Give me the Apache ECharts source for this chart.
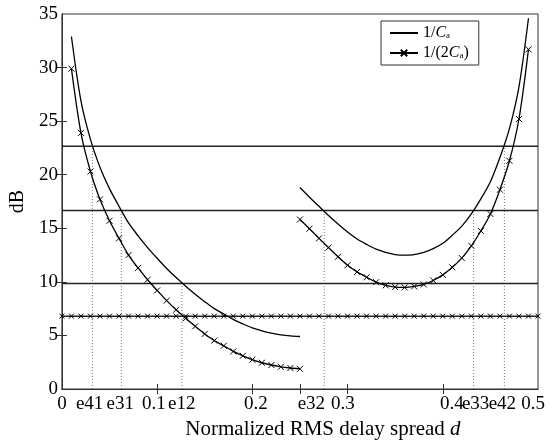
<!DOCTYPE html>
<html>
<head>
<meta charset="utf-8">
<script src="https://cdn.jsdelivr.net/npm/echarts@6/dist/echarts.min.js"></script>
<style>html,body{margin:0;padding:0;background:#fff}#c{width:557px;height:445px}</style>
</head>
<body>
<div id="c"></div>
<script>
// ---- data ----
const xLeft = [0.01,0.02,0.03,0.04,0.05,0.06,0.07,0.08,0.09,0.10,0.11,0.12,0.13,0.14,0.15,0.16,0.17,0.18,0.19,0.20,0.21,0.22,0.23,0.24,0.25];
const invCaLeft = [32.9,26.9,23.3,20.7,18.7,17.05,15.5,14.3,13.2,12.2,11.25,10.4,9.6,8.85,8.15,7.5,7.0,6.5,6.08,5.7,5.43,5.22,5.06,4.96,4.9];
const inv2CaLeft = [29.9,23.9,20.3,17.7,15.7,14.06,12.5,11.3,10.2,9.2,8.25,7.4,6.6,5.85,5.14,4.52,4.03,3.51,3.1,2.74,2.45,2.24,2.07,1.96,1.88];
const xRight = [0.25,0.26,0.27,0.28,0.29,0.30,0.31,0.32,0.33,0.34,0.35,0.36,0.37,0.38,0.39,0.40,0.41,0.42,0.43,0.44,0.45,0.46,0.47,0.48,0.49];
const invCaRight = [18.8,17.9,17.05,16.2,15.4,14.65,14.0,13.5,13.05,12.75,12.55,12.5,12.55,12.75,13.1,13.6,14.35,15.2,16.35,17.75,19.35,21.6,24.3,28.2,34.6];
const inv2CaRight = [15.82,14.96,14.06,13.2,12.34,11.55,10.93,10.43,9.97,9.67,9.51,9.48,9.58,9.76,10.13,10.65,11.36,12.22,13.36,14.75,16.34,18.6,21.3,25.2,31.7];
const thresholdX = [0,0.01,0.02,0.03,0.04,0.05,0.06,0.07,0.08,0.09,0.10,0.11,0.12,0.13,0.14,0.15,0.16,0.17,0.18,0.19,0.20,0.21,0.22,0.23,0.24,0.25,0.26,0.27,0.28,0.29,0.30,0.31,0.32,0.33,0.34,0.35,0.36,0.37,0.38,0.39,0.40,0.41,0.42,0.43,0.44,0.45,0.46,0.47,0.48,0.49,0.50];
const thresholdLevel = 6.8;
const levels = [22.65,16.65,9.85];
const dropX = [0.032,0.0624,0.126,0.2755,0.4324,0.4647];
const dropTop = [22.65,16.65,9.85,16.65,16.65,22.65];
const xTickLabels = ['0','e41','e31','0.1','e12','0.2','e32','0.3','0.4','e33','e42','0.5'];
const xTickLabelPos = [0,0.0291,0.0613,0.0967,0.1258,0.2037,0.262,0.2952,0.4096,0.4345,0.4626,0.4948];
const xTickMarks = [0.1,0.2,0.25,0.3,0.4];
const yTicks = [5,10,15,20,25,30];
const legendNames = ['1/Ca','1/(2Ca)'];

// ---- chart ----
const FONT = 'Liberation Serif';
const xMark = 'path://M0,0L10,10M10,0L0,10';
const zip = (xs, ys) => xs.map((x, i) => [x, ys[i]]);
const series = [];
levels.forEach(v => series.push({
  type:'line', data:[[0,v],[0.5,v]], symbol:'none', silent:true,
  lineStyle:{color:'#222', width:1.5}, z:2
}));
dropX.forEach((x, i) => series.push({
  type:'line', data:[[x,0],[x,dropTop[i]]], symbol:'none', silent:true,
  lineStyle:{color:'#777', width:1, type:[1,2]}, z:1
}));
series.push({
  type:'line', data: thresholdX.map(x => [x, thresholdLevel]),
  symbol:xMark, symbolSize:5, showAllSymbol:true,
  lineStyle:{color:'#222', width:1.5}, itemStyle:{color:'#000', borderColor:'#000', borderWidth:1}, z:3
});
const curveStyle = {color:'#000', width:1.3};
series.push({name:legendNames[0], type:'line', data:zip(xLeft, invCaLeft), symbol:'none', smooth:0.3, lineStyle:curveStyle, itemStyle:{color:'#000'}, z:4});
series.push({name:legendNames[0], type:'line', data:zip(xRight, invCaRight), symbol:'none', smooth:0.3, lineStyle:curveStyle, itemStyle:{color:'#000'}, z:4});
series.push({name:legendNames[1], type:'line', data:zip(xLeft, inv2CaLeft), symbol:xMark, symbolSize:6, showAllSymbol:true, smooth:0.3, lineStyle:curveStyle, itemStyle:{color:'#000', borderColor:'#000', borderWidth:1}, z:4});
series.push({name:legendNames[1], type:'line', data:zip(xRight, inv2CaRight), symbol:xMark, symbolSize:6, showAllSymbol:true, smooth:0.3, lineStyle:curveStyle, itemStyle:{color:'#000', borderColor:'#000', borderWidth:1}, z:4});

const chart = echarts.init(document.getElementById('c'), null, {renderer:'canvas'});
chart.setOption({
  animation:false,
  backgroundColor:'#fff',
  grid:{left:57, right:19, top:14, bottom:52, show:true, borderColor:'#333', borderWidth:1, backgroundColor:'transparent'},
  legend:{
    data:[{name:legendNames[0], itemStyle:{opacity:0}}, {name:legendNames[1]}],
    orient:'vertical', left:381, top:21,
    backgroundColor:'#fff', borderColor:'#333', borderWidth:1, padding:[4,10,4,8],
    itemWidth:28, itemHeight:8, itemGap:4,
    formatter: n => n === legendNames[0] ? '1/{i|C}{s|a}' : '1/(2{i|C}{s|a})',
    textStyle:{fontFamily:FONT, fontSize:16, color:'#000',
      rich:{i:{fontFamily:FONT, fontStyle:'italic', fontSize:16, color:'#000'}, s:{fontFamily:FONT, fontSize:9, color:'#000', padding:[5,0,0,0]}}}
  },
  xAxis:[{
    type:'value', min:0, max:0.5, position:'bottom',
    name:'Normalized RMS delay spread {i|d}', nameLocation:'middle', nameGap:30,
    nameTextStyle:{fontFamily:FONT, fontSize:21, color:'#000', padding:[0,0,0,46],
      rich:{i:{fontFamily:FONT, fontSize:21, fontStyle:'italic', color:'#000'}}},
    axisLine:{show:true, lineStyle:{color:'#333'}},
    axisTick:{show:true, inside:true, length:5, customValues:xTickMarks, lineStyle:{color:'#333'}},
    axisLabel:{customValues:xTickLabelPos, margin:6, fontFamily:FONT, fontSize:19, color:'#000',
      formatter: v => { let k = 0; xTickLabelPos.forEach((p, i) => { if (Math.abs(p - v) < Math.abs(xTickLabelPos[k] - v)) k = i; }); return xTickLabels[k]; }},
    splitLine:{show:false}
  },{
    type:'value', min:0, max:0.5, position:'top',
    axisLine:{show:true, lineStyle:{color:'#333'}},
    axisTick:{show:true, inside:true, length:5, customValues:xTickMarks, lineStyle:{color:'#333'}},
    axisLabel:{show:false}, splitLine:{show:false}
  }],
  yAxis:[{
    type:'value', min:0, max:35, interval:5, position:'left',
    name:'dB', nameLocation:'middle', nameGap:32, nameRotate:90,
    nameTextStyle:{fontFamily:FONT, fontSize:20, color:'#000'},
    axisLine:{show:true, lineStyle:{color:'#333'}},
    axisTick:{show:true, inside:true, length:5, customValues:yTicks, lineStyle:{color:'#333'}},
    axisLabel:{margin:4, fontFamily:FONT, fontSize:19, color:'#000'},
    splitLine:{show:false}
  },{
    type:'value', min:0, max:35, interval:5, position:'right',
    axisLine:{show:true, lineStyle:{color:'#333'}},
    axisTick:{show:true, inside:true, length:5, customValues:yTicks, lineStyle:{color:'#333'}},
    axisLabel:{show:false}, splitLine:{show:false}
  }],
  series: series
});
</script>
</body>
</html>
